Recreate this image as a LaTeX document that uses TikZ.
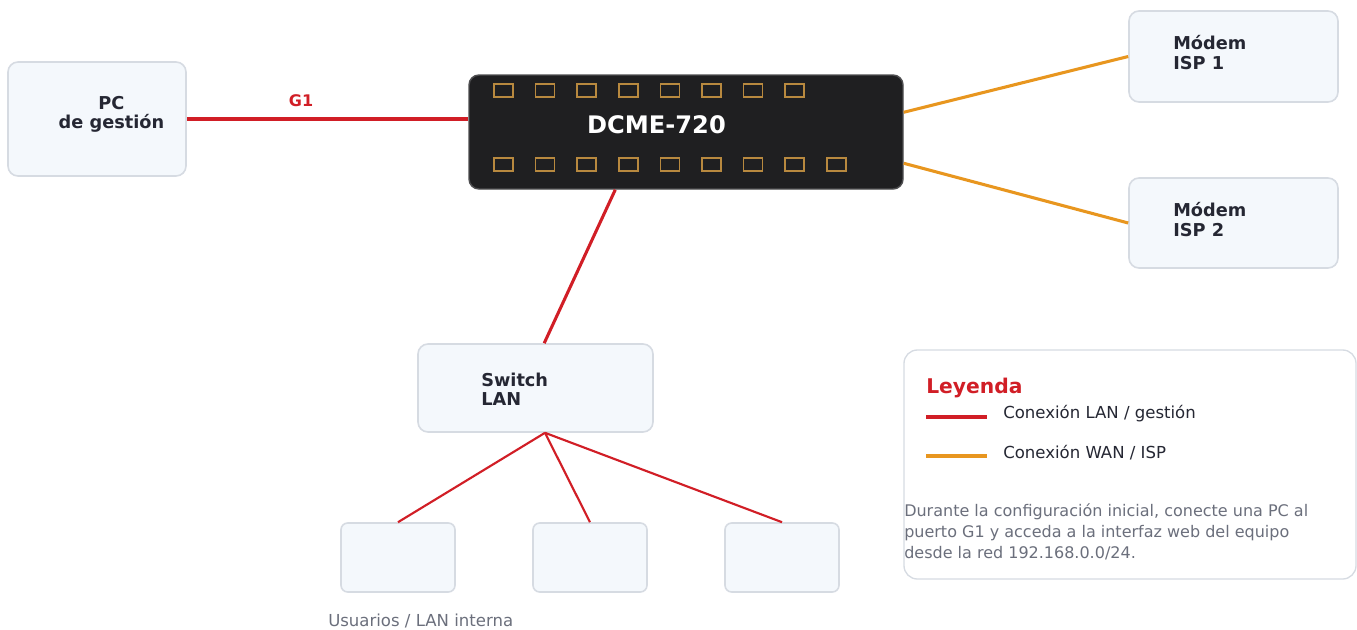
\documentclass[tikz,border=0pt]{standalone}
\usepackage{fontspec}
\setmainfont{DejaVu Sans}
\usetikzlibrary{calc}
\definecolor{boxfill}{HTML}{F4F8FC}
\definecolor{boxline}{HTML}{D6DBE2}
\definecolor{ink}{HTML}{252733}
\definecolor{lanred}{HTML}{D11E26}
\definecolor{wanorange}{HTML}{E8961F}
\definecolor{note}{HTML}{6B6F7C}
\definecolor{chassis}{HTML}{1F1F21}
\definecolor{chassisedge}{HTML}{4E4E50}
\definecolor{port}{HTML}{B8893F}

\begin{document}
\begin{tikzpicture}[x=0.75pt,y=-0.75pt,
  devbox/.style={draw=boxline, fill=boxfill, line width=1.2pt, rounded corners=7.5pt, inner sep=0pt},
  endbox/.style={devbox, rounded corners=5pt, minimum width=85.5pt, minimum height=51.75pt},
  lbl/.style={font=\bfseries\fontsize{13.3}{14.5}\selectfont, text=ink, align=left, inner sep=0pt},
  legtext/.style={font=\fontsize{12.4}{15}\selectfont, text=ink, inner sep=0pt, anchor=west},
  lan/.style={draw=lanred, line width=2.3pt},
  lanthin/.style={draw=lanred, line width=1.6pt},
  wan/.style={draw=wanorange, line width=2.3pt},
  portbox/.style={draw=port, line width=1.1pt},
]
\useasboundingbox (0,0) rectangle (1357,629);

% management PC
\node[devbox, minimum width=133.5pt, minimum height=85.5pt] (pc) at (97,119) {};
\node[lbl, align=center] (pclabel) at (111.5,114) {PC\\de gestión};

% main appliance with its port rows
\node[draw=chassisedge, fill=chassis, line width=1.1pt, rounded corners=7.5pt,
      minimum width=325.5pt, minimum height=85.5pt, inner sep=0pt] (dcme) at (686,132) {};
\foreach \i in {0,...,7}
  \draw[portbox] ({494+41.6*\i},84) rectangle ++(19,13);
\foreach \i in {0,...,8}
  \draw[portbox] ({494+41.6*\i},158) rectangle ++(19,13);
\node[font=\bfseries\fontsize{18.1}{21}\selectfont, text=white, inner sep=0pt] (dcmelabel) at (656.5,125) {DCME-720};

% ISP modems
\node[devbox, minimum width=156.75pt, minimum height=68.25pt] (m1) at (1233.5,56.5) {};
\node[lbl, anchor=west] (m1label) at (1173,52.5) {Módem\\ISP 1};
\node[devbox, minimum width=156.75pt, minimum height=67.5pt] (m2) at (1233.5,223) {};
\node[lbl, anchor=west] (m2label) at (1173,219.5) {Módem\\ISP 2};

% LAN switch and end users
\node[devbox, minimum width=176.25pt, minimum height=66pt] (sw) at (535.5,388) {};
\node[lbl, anchor=west] (swlabel) at (481,389.5) {Switch\\LAN};
\node[endbox] (b1) at (398,557.5) {};
\node[endbox] (b2) at (590,557.5) {};
\node[endbox] (b3) at (782,557.5) {};
\node[font=\fontsize{12.4}{15}\selectfont, text=note, inner sep=0pt, anchor=west] (users) at (328,621) {Usuarios / LAN interna};

% links
\draw[lan] (pc.east) -- (pc.east -| dcme.west);
\node[font=\bfseries\fontsize{12}{14}\selectfont, text=lanred, inner sep=0pt] (g1) at (301,101) {G1};
\draw[lan] ($(dcme.south west)+(147,0)$) -- ($(sw.north west)+(127,0)$);
\draw[wan] ($(dcme.north east)+(0,38)$) -- (m1.west);
\draw[wan] ($(dcme.north east)+(0,89)$) -- (m2.west);
\coordinate (hub) at ($(sw.south)+(9.5,0)$);
\draw[lanthin] (hub) -- (b1.north);
\draw[lanthin] (hub) -- (b2.north);
\draw[lanthin] (hub) -- (b3.north);

% legend
\node[draw=boxline, fill=white, line width=1pt, rounded corners=10pt,
      minimum width=339pt, minimum height=171.75pt, inner sep=0pt] (legend) at (1130,464.5) {};
\node[font=\bfseries\fontsize{15.2}{18}\selectfont, text=lanred, inner sep=0pt, anchor=west] (legtitle) at (926,388) {Leyenda};
\draw[draw=lanred, line width=3pt] (926,417) -- (987,417);
\node[legtext] (leglan) at (1003,414) {Conexión LAN / gestión};
\draw[draw=wanorange, line width=3pt] (926,456) -- (987,456);
\node[legtext] (legwan) at (1003,453) {Conexión WAN / ISP};
\node[font=\fontsize{12}{15.75}\selectfont, text=note, inner sep=0pt, align=left, anchor=north west] (legnote) at (904,503)
  {Durante la configuración inicial, conecte una PC al\\puerto G1 y acceda a la interfaz web del equipo\\desde la red 192.168.0.0/24.};
\end{tikzpicture}
\end{document}
